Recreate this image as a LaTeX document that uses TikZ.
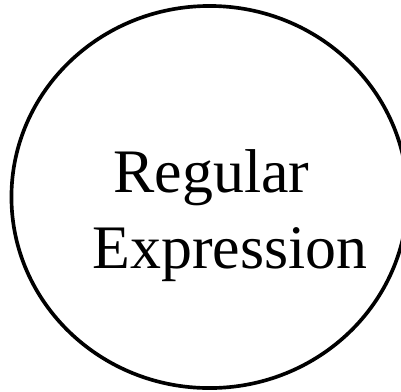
\documentclass[tikz,border=0pt]{standalone}
\usepackage{fontspec}
\setmainfont{Liberation Serif}
\usepackage{tikz}
\usetikzlibrary{shapes.geometric}
\begin{document}
\begin{tikzpicture}[x=0.025cm, y=-0.025cm]
\tikzstyle{bubble}=[draw, line width=2.6pt, ellipse, minimum width=9.9cm, minimum height=9.55cm, inner sep=0pt]
\tikzstyle{word}=[align=center, inner sep=0pt, font=\fontsize{44}{54}\selectfont]
\useasboundingbox (0,0) rectangle (401,391);
\node[bubble] (regex) at (209.5,197) {};
\node[word] (label) at (230,216) {Regular\hspace*{0.925cm}\\Expression};
\end{tikzpicture}
\end{document}
